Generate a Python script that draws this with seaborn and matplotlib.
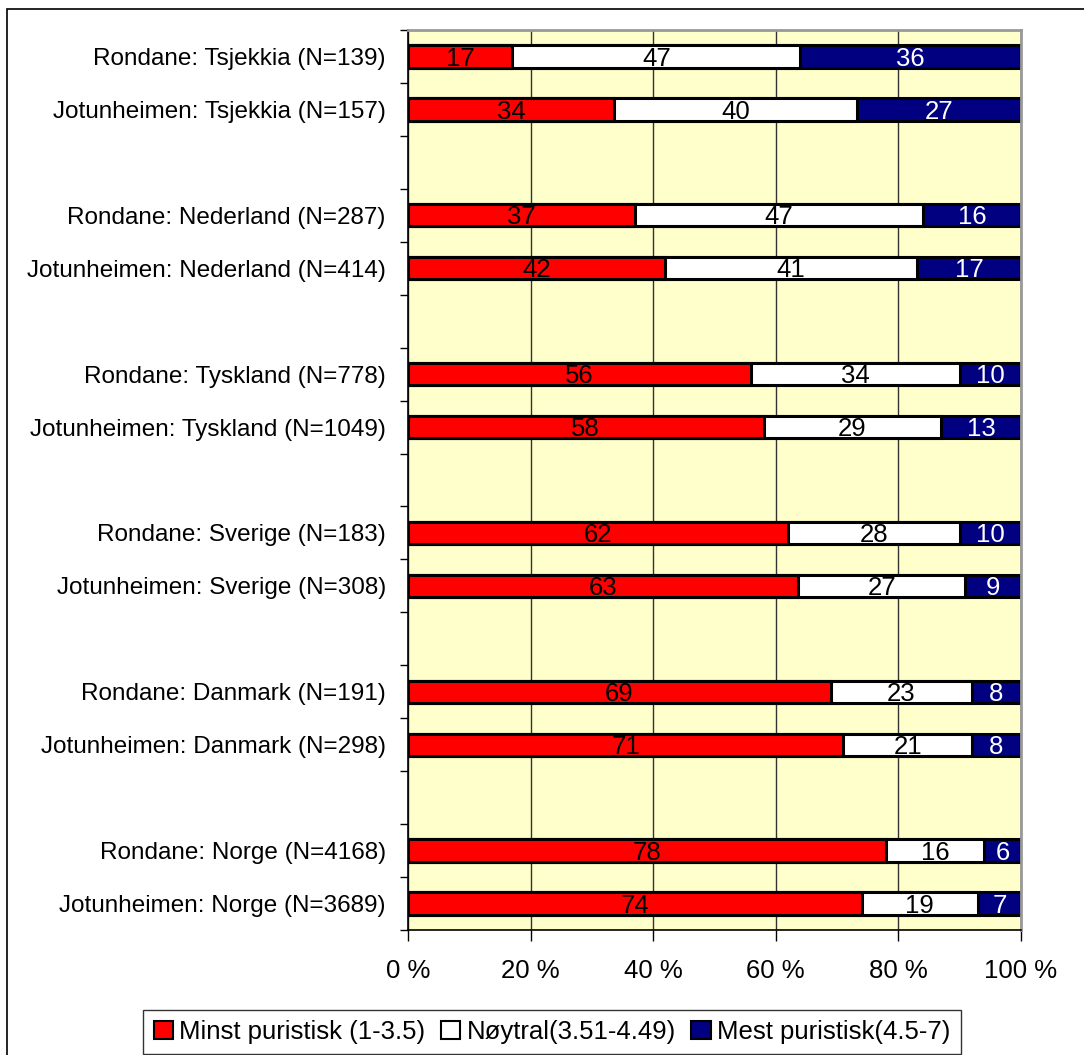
import matplotlib
matplotlib.use("Agg")
import matplotlib.pyplot as plt
from matplotlib.patches import Patch, Rectangle
from matplotlib.ticker import FixedLocator
import numpy as np
import pandas as pd
import seaborn as sns

sns.set_style("ticks")
plt.rcParams["font.family"] = ["Liberation Sans", "DejaVu Sans"]
plt.rcParams["text.color"] = "black"
plt.rcParams["xtick.labelcolor"] = "black"
plt.rcParams["ytick.labelcolor"] = "black"

# data
groups = [
    "Rondane: Tsjekkia (N=139)",
    "Jotunheimen: Tsjekkia (N=157)",
    "Rondane: Nederland (N=287)",
    "Jotunheimen: Nederland (N=414)",
    "Rondane: Tyskland (N=778)",
    "Jotunheimen: Tyskland (N=1049)",
    "Rondane: Sverige (N=183)",
    "Jotunheimen: Sverige (N=308)",
    "Rondane: Danmark (N=191)",
    "Jotunheimen: Danmark (N=298)",
    "Rondane: Norge (N=4168)",
    "Jotunheimen: Norge (N=3689)",
]
minst = [17, 34, 37, 42, 56, 58, 62, 63, 69, 71, 78, 74]
noytral = [47, 40, 47, 41, 34, 29, 28, 27, 23, 21, 16, 19]
mest = [36, 27, 16, 17, 10, 13, 10, 9, 8, 8, 6, 7]
x_ticks = [0, 20, 40, 60, 80, 100]
legend_labels = ["Minst puristisk (1-3.5)", "Nøytral(3.51-4.49)", "Mest puristisk(4.5-7)"]

red = "#FF0000"
white = "#FFFFFF"
navy = "#000080"
fs = 17.5
fs_bar = 18.5

# empty rows between the country pairs
order = []
for i, g in enumerate(groups):
    order.append(g)
    if i % 2 == 1 and i < len(groups) - 1:
        order.append(" " * (i // 2 + 1))

df = pd.DataFrame({"group": groups, "minst": minst, "noytral": noytral, "mest": mest})
tot = df[["minst", "noytral", "mest"]].sum(axis=1)
df["p1"] = df["minst"] / tot * 100
df["p2"] = (df["minst"] + df["noytral"]) / tot * 100
df["p3"] = (df["minst"] + df["noytral"] + df["mest"]) / tot * 100

fig = plt.figure(figsize=(10.84, 10.55), dpi=100)
ax = fig.add_axes([408 / 1084, 1 - 930 / 1055, 613 / 1084, 900 / 1055])
ax.set_facecolor("#FFFFCC")

# stacked bars: draw cumulative totals back to front
for col, c in [("p3", navy), ("p2", white), ("p1", red)]:
    sns.barplot(
        data=df, x=col, y="group", order=order, orient="h",
        color=c, saturation=1, width=0.42, errorbar=None,
        edgecolor="black", linewidth=2.2, ax=ax,
    )

# segment labels
for _, r in df.iterrows():
    yi = order.index(r["group"]) + 0.04
    ax.text(r["p1"] / 2, yi, str(r["minst"]), ha="center", va="center",
            fontsize=fs_bar, color="black")
    ax.text((r["p1"] + r["p2"]) / 2, yi, str(r["noytral"]), ha="center",
            va="center", fontsize=fs_bar, color="black")
    ax.text((r["p2"] + r["p3"]) / 2, yi, str(r["mest"]), ha="center",
            va="center", fontsize=fs_bar, color="white")

ax.set_xlim(0, 100)
ax.set_ylim(len(order) - 0.5, -0.5)
ax.set_xlabel("")
ax.set_ylabel("")
ax.set_xticks(x_ticks)
ax.set_xticklabels([f"{v} %" for v in x_ticks], fontsize=fs_bar)
ax.tick_params(axis="x", length=8, width=1, pad=13, color="black")
ax.tick_params(axis="y", which="major", length=0, pad=16, labelsize=fs)
ax.yaxis.set_minor_locator(FixedLocator(np.arange(-0.5, len(order), 1.0)))
ax.tick_params(axis="y", which="minor", length=6, width=1, color="black")

ax.xaxis.grid(True, color="#333333", linewidth=1)
ax.set_axisbelow(True)
for s in ["left", "bottom"]:
    ax.spines[s].set_color("black")
    ax.spines[s].set_linewidth(1.2)
for s in ["top", "right"]:
    ax.spines[s].set_color("#999999")
    ax.spines[s].set_linewidth(2)

handles = [Patch(facecolor=c, edgecolor="black", linewidth=1.5) for c in (red, white, navy)]
leg = fig.legend(
    handles, legend_labels, loc="center", bbox_to_anchor=(552 / 1084, 1 - 1032 / 1055),
    ncol=3, fontsize=18.5, frameon=True, fancybox=False, handlelength=0.75,
    handleheight=0.75, handletextpad=0.25, columnspacing=0.6, borderpad=0.4,
    borderaxespad=0,
)
leg.get_frame().set_edgecolor("black")
leg.get_frame().set_linewidth(1)

# outer chart frame
fig.add_artist(Rectangle((7 / 1084, -0.1), 1.2, 1.1 - 9 / 1055, transform=fig.transFigure,
                         fill=False, edgecolor="black", linewidth=1.2))

fig.savefig("out.png", dpi=100)
